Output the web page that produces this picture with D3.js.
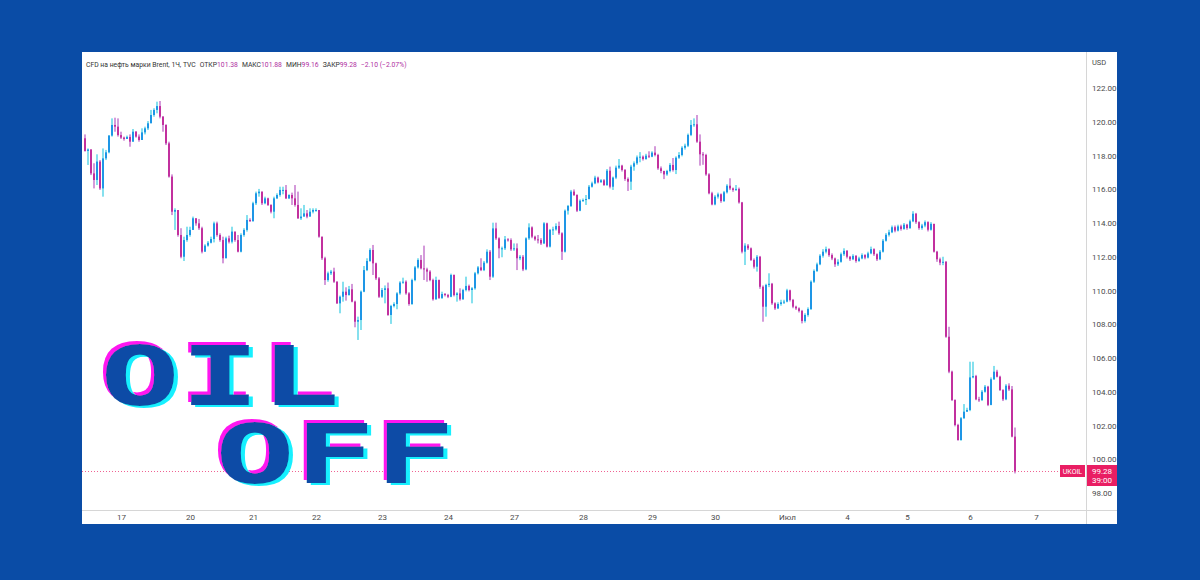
<!DOCTYPE html>
<html><head><meta charset="utf-8">
<script src="https://cdn.jsdelivr.net/npm/d3@7"></script>
<style>html,body{margin:0;padding:0;background:#0a4ca6;} svg{display:block}</style>
</head><body><svg id="c" width="1200" height="580"></svg>
<script>
// ---------- DATA ----------
const firstOpen = 119.02;
const closes = [
118.27,118.36,116.94,116.55,117.64,116.05,117.83,118.19,119.18,119.81,
119.71,119.21,119.06,118.98,119.10,118.82,119.41,119.12,118.92,119.37,
119.61,119.91,120.40,120.70,120.93,120.30,119.81,118.72,116.75,114.67,
114.77,113.29,112.00,112.99,113.29,113.59,114.28,113.98,113.69,112.30,
112.66,112.83,113.05,113.98,113.29,112.99,111.91,113.09,112.89,113.49,
112.99,112.30,113.29,113.59,114.18,114.10,115.17,115.76,115.86,115.17,
115.46,115.07,114.67,115.46,115.66,115.96,115.96,115.46,115.66,115.46,
115.07,114.28,114.38,114.57,114.38,114.67,114.77,114.77,113.19,111.91,
110.62,111.02,111.12,
110.52,109.24,109.63,109.93,109.73,110.07,109.34,108.15,108.25,109.93,
111.21,111.75,112.40,111.61,110.72,109.63,110.03,110.13,108.55,109.08,
109.20,109.83,110.47,110.52,109.83,109.20,110.62,111.37,111.81,111.31,
111.25,111.12,110.62,109.48,110.62,109.56,109.79,109.73,109.63,110.92,
109.73,109.83,109.48,110.03,110.27,110.03,110.13,111.02,111.37,111.21,
111.65,112.30,110.82,113.68,113.09,112.50,112.50,113.03,112.99,112.44,
112.50,111.91,112.00,111.25,113.09,113.74,113.19,113.03,112.99,112.79,
113.98,112.60,113.59,113.62,113.82,113.39,112.30,114.73,115.01,115.86,
115.66,114.73,115.32,
115.36,115.42,116.15,116.35,116.69,116.41,116.53,116.25,117.10,116.15,
116.69,117.28,117.40,117.14,116.61,116.45,117.34,117.54,117.89,117.93,
117.79,117.99,117.93,118.17,118.03,117.24,117.08,116.88,117.08,117.44,
117.14,117.87,118.03,118.46,118.58,119.22,119.81,119.85,118.82,118.07,
118.03,116.88,115.76,115.10,115.56,115.70,115.30,115.82,116.21,116.05,
115.96,116.02,115.22,112.30,112.66,112.50,111.81,111.41,112.00,110.22,
109.04,110.33,110.40,109.24,108.94,109.20,109.30,109.34,110.01,109.44,
109.04,108.94,108.79,108.19,108.55,108.90,110.52,111.16,111.55,112.06,
112.30,112.45,112.10,111.90,111.55,111.70,112.15,112.35,112.00,111.85,
112.05,111.75,111.90,112.10,111.95,112.20,112.45,112.15,111.85,112.30,
112.95,113.30,113.45,113.75,113.55,113.80,113.65,113.90,113.70,114.10,
114.55,114.05,113.70,113.85,114.05,113.60,113.95,
112.30,111.85,111.65,111.70,107.26,105.19,103.51,102.03,101.14,102.43,
102.82,102.92,104.85,104.93,103.55,103.51,104.00,104.30,103.22,104.74,
105.19,104.89,104.10,103.55,104.36,104.14,101.34,99.28
];
const highs = [
119.25,118.42,118.36,117.54,118.07,117.73,118.42,118.33,119.21,120.20,
120.24,120.20,119.41,119.12,119.18,119.25,119.57,119.45,119.25,119.61,
119.71,120.04,120.70,120.80,121.19,121.23,120.34,119.85,118.82,116.88,
114.87,114.57,113.69,113.19,113.78,113.78,114.38,114.18,114.24,113.78,
112.74,112.93,113.19,114.08,114.08,113.39,113.19,113.19,113.25,113.78,
113.45,113.29,113.39,113.69,114.47,114.28,115.26,115.86,116.02,115.56,
115.56,115.50,115.11,115.56,115.76,116.15,116.15,116.25,115.70,115.80,
116.25,115.86,114.87,115.07,114.77,114.87,114.87,114.87,114.38,113.19,
112.00,111.12,111.22,
111.35,110.55,109.70,110.52,110.19,110.27,110.39,109.40,108.45,110.00,
111.45,111.91,112.50,112.70,111.65,110.80,110.15,110.30,110.47,109.15,
109.30,109.90,110.55,110.76,110.60,109.90,110.70,111.45,111.91,112.10,
112.66,111.35,111.20,110.70,110.82,110.65,109.93,109.85,109.80,111.00,
110.95,109.90,110.13,110.10,110.82,110.35,110.20,111.10,111.45,111.91,
111.75,112.44,112.40,114.02,114.02,113.15,112.60,113.23,113.10,113.09,
112.79,112.79,112.10,112.10,113.15,113.98,113.80,113.25,113.29,113.10,
114.05,114.02,113.65,113.78,113.98,114.08,113.45,114.80,115.07,115.96,
115.99,115.70,115.40,
115.45,115.66,116.25,116.45,116.80,116.75,116.60,116.60,117.20,117.34,
116.75,117.40,117.79,117.45,117.20,116.70,117.45,117.65,118.00,118.20,
118.00,118.10,118.25,118.25,118.55,118.10,117.35,117.10,117.15,117.55,
117.85,117.95,118.20,118.55,118.70,119.30,120.10,120.20,120.40,119.25,
118.20,118.10,116.95,115.85,115.65,115.80,115.75,115.90,116.30,116.65,
116.10,116.25,116.10,115.25,112.80,112.75,112.55,111.90,112.10,112.05,
110.30,110.40,111.02,110.45,109.30,109.30,109.45,109.45,110.10,110.05,
109.50,109.10,109.00,108.85,108.65,109.00,110.60,111.25,111.65,112.15,
112.45,112.60,112.50,112.20,111.95,111.85,112.25,112.50,112.40,112.05,
112.15,112.10,112.00,112.20,112.15,112.30,112.60,112.50,112.20,112.40,
113.05,113.40,113.60,113.85,113.85,113.90,113.90,114.00,113.95,114.20,
114.70,114.60,114.10,113.95,114.15,114.10,114.05,
113.70,112.35,111.95,112.00,111.75,107.85,105.25,103.55,102.10,102.50,
103.27,103.05,105.78,105.78,105.00,103.70,104.10,104.40,104.35,104.85,
105.53,105.30,104.95,104.15,104.45,104.50,104.34,101.88
];
const lows = [
118.23,117.44,116.84,116.05,116.25,115.96,115.56,117.73,118.13,119.12,
119.41,119.12,118.98,118.88,119.02,118.52,118.82,119.06,118.82,118.92,
119.25,119.51,119.91,120.30,120.50,120.20,119.41,118.62,116.69,114.47,
113.59,113.19,111.91,111.75,112.89,113.19,113.59,113.84,113.59,112.20,
112.30,112.60,112.79,112.85,113.19,112.89,111.61,111.91,112.79,112.79,
112.89,112.26,112.26,113.19,113.49,114.08,114.24,115.07,115.56,115.07,
115.11,115.01,114.57,114.28,115.42,115.56,115.70,115.42,115.42,115.07,
114.97,114.24,114.18,114.43,114.28,114.47,114.57,114.67,113.13,111.81,
110.33,110.52,110.92,
110.45,109.20,108.65,109.34,109.40,109.70,109.30,107.82,107.07,107.66,
109.90,111.15,111.70,110.92,110.62,109.56,109.56,109.24,108.50,108.02,
109.00,108.89,109.75,110.40,109.75,109.10,109.15,110.55,111.30,111.25,
110.62,110.52,110.55,109.40,109.45,109.50,109.50,109.65,109.55,109.60,
109.65,109.34,109.40,109.45,109.95,109.95,109.24,110.05,110.95,111.15,
111.15,111.60,110.62,110.75,113.00,111.91,111.97,112.40,112.90,112.35,
112.35,111.21,111.80,111.15,111.20,113.00,113.10,112.95,112.79,112.70,
112.75,112.55,112.55,113.29,113.55,113.30,111.81,112.25,114.50,114.95,
115.60,114.65,114.70,
115.25,115.07,115.40,116.10,116.30,116.35,116.40,116.20,116.20,116.05,
115.96,116.60,117.20,117.05,116.50,115.90,115.96,117.10,117.45,117.60,
117.70,117.75,117.85,117.90,117.95,117.15,116.95,116.60,116.80,117.00,
117.05,116.90,117.80,117.95,118.35,118.50,119.15,119.70,118.75,117.40,
117.45,116.80,115.70,115.05,115.05,115.45,115.20,115.25,115.75,115.95,
115.85,115.90,115.15,112.20,111.51,112.40,111.75,111.30,111.12,110.10,
108.15,108.45,110.20,109.15,108.85,108.90,109.10,109.20,109.30,109.35,
108.95,108.85,108.70,108.05,108.10,108.45,108.85,110.45,111.10,111.50,
111.95,112.20,112.00,111.80,111.40,111.45,111.65,112.05,111.90,111.75,
111.80,111.65,111.70,111.85,111.85,111.90,112.15,112.05,111.75,111.80,
112.25,112.90,113.20,113.40,113.45,113.50,113.55,113.60,113.60,113.65,
114.05,113.95,113.60,113.60,113.75,113.50,113.55,
112.25,111.70,111.50,111.50,107.20,105.10,103.45,101.95,101.10,101.10,
102.40,102.80,102.85,104.80,103.50,103.40,103.45,103.95,103.15,103.20,
104.70,104.85,104.05,103.45,103.50,104.05,101.30,99.16
];
const priceTicks = [98,100,102,104,106,108,110,112,114,116,118,120,122];
const dayLabels = ["17","20","21","22","23","24","27","28","29","30","Июл","4","5","6","7"];
const dayIndex  = [12,35,56,77,99,121,143,166,189,210,234,254,274,295,317];
const headerTitle = "CFD на нефть марки Brent, 1Ч, TVC";
const headerLabels = ["ОТКР","МАКС","МИН","ЗАКР"];
const headerValues = ["101.38","101.88","99.16","99.28"];
const headerChange = "−2.10 (−2.07%)";
const symbolName = "UKOIL";
const lastPrice = 99.28;
const countdown = "39:00";
const titleWords = ["OIL","OFF"];

// ---------- DRAW ----------
const svg = d3.select("#c");
const BLUE = "#0a4ca6";
const UP = "#1e96e6", UPW = "#86e0ee", DN = "#c2309e", DNW = "#d49ada";
svg.append("rect").attr("width",1200).attr("height",580).attr("fill",BLUE);
svg.append("rect").attr("x",82).attr("y",52).attr("width",1035).attr("height",472).attr("fill","#fff");

const x = d3.scaleLinear().domain([0, closes.length-1]).range([85, 85 + 3*(closes.length-1)]);
const y = d3.scaleLinear().domain([98,122]).range([493,88]);

// axes frame
svg.append("line").attr("x1",1086.5).attr("x2",1086.5).attr("y1",52).attr("y2",524).attr("stroke","#d6d6d6");
svg.append("line").attr("x1",82).attr("x2",1117).attr("y1",510.5).attr("y2",510.5).attr("stroke","#d6d6d6");

const font = "Roboto, 'Liberation Sans', Arial, sans-serif";

// y axis
const yAxis = d3.axisRight(y).tickValues(priceTicks).tickFormat(d3.format(".2f")).tickSize(0).tickPadding(0);
const gy = svg.append("g").attr("transform","translate(1092,0)").call(yAxis);
gy.select(".domain").remove();
gy.selectAll("text").attr("font-family",font).attr("font-size",8).attr("fill","#4a4a4a");
svg.append("text").attr("x",1092).attr("y",65).text("USD")
  .attr("font-family",font).attr("font-size",7.5).attr("fill","#4a4a4a");

// x axis
const xAxis = d3.axisBottom(x).tickValues(dayIndex).tickFormat((d,i)=>dayLabels[i]).tickSize(0).tickPadding(0);
const gx = svg.append("g").attr("transform","translate(0,514)").call(xAxis);
gx.select(".domain").remove();
gx.selectAll("text").attr("font-family",font).attr("font-size",8).attr("fill","#4a4a4a");

// candles
const data = closes.map((c,i)=>({i, o: i ? closes[i-1] : firstOpen, h: highs[i], l: lows[i], c}));
const g = svg.append("g");
g.selectAll("rect.w").data(data).join("rect").attr("class","w")
  .attr("x", d=>x(d.i)-1).attr("width",2)
  .attr("y", d=>y(Math.max(d.h,d.o,d.c)))
  .attr("height", d=>Math.max(1, y(Math.min(d.l,d.o,d.c)) - y(Math.max(d.h,d.o,d.c))))
  .attr("fill", d=>d.c>=d.o?UPW:DNW);
g.selectAll("rect.b").data(data).join("rect").attr("class","b")
  .attr("x", d=>x(d.i)-1).attr("width",2)
  .attr("y", d=>y(Math.max(d.o,d.c)))
  .attr("height", d=>Math.max(1, Math.abs(y(d.o)-y(d.c))))
  .attr("fill", d=>d.c>=d.o?UP:DN);

// last price line + labels
const ly = Math.round(y(lastPrice))+0.5;
svg.append("line").attr("x1",82).attr("x2",1060).attr("y1",ly).attr("y2",ly)
  .attr("stroke","#f06292").attr("stroke-dasharray","1,2").attr("stroke-width",1);
svg.append("rect").attr("x",1060).attr("y",ly-6.5).attr("width",25).attr("height",12).attr("fill","#e91e63");
svg.append("text").attr("x",1072.5).attr("y",ly+2.5).attr("text-anchor","middle").text(symbolName)
  .attr("font-family",font).attr("font-size",7).attr("fill","#fff");
svg.append("rect").attr("x",1087).attr("y",ly-6.5).attr("width",30).attr("height",21).attr("fill","#e91e63");
svg.append("text").attr("x",1102).attr("y",ly+2.5).attr("text-anchor","middle").text(d3.format(".2f")(lastPrice))
  .attr("font-family",font).attr("font-size",8).attr("fill","#fff");
svg.append("text").attr("x",1102).attr("y",ly+11.5).attr("text-anchor","middle").text(countdown)
  .attr("font-family",font).attr("font-size",8).attr("fill","#fff");

// header (one flowing line)
const ht = svg.append("text").attr("x",86).attr("y",66.5).attr("font-family",font).attr("font-size",6.8);
ht.append("tspan").attr("fill","#333").text(headerTitle);
headerLabels.forEach((lab,i)=>{
  ht.append("tspan").attr("dx",4).attr("fill","#333").text(lab);
  ht.append("tspan").attr("fill","#b0309f").text(headerValues[i]);
});
ht.append("tspan").attr("dx",4).attr("fill","#b0309f").text(headerChange);

// OIL OFF glitch title (one text, colour ghosts via filter)
const defs = svg.append("defs");
const f = defs.append("filter").attr("id","glitch")
  .attr("x","-10%").attr("y","-10%").attr("width","120%").attr("height","120%");
f.append("feOffset").attr("in","SourceAlpha").attr("dx",-3).attr("dy",-3).attr("result","a1");
f.append("feFlood").attr("flood-color","#ff14f0").attr("result","c1");
f.append("feComposite").attr("in","c1").attr("in2","a1").attr("operator","in").attr("result","mg");
f.append("feOffset").attr("in","SourceAlpha").attr("dx",4).attr("dy",2).attr("result","a2");
f.append("feFlood").attr("flood-color","#14f0ff").attr("result","c2");
f.append("feComposite").attr("in","c2").attr("in2","a2").attr("operator","in").attr("result","cy");
const fm = f.append("feMerge");
fm.append("feMergeNode").attr("in","mg");
fm.append("feMergeNode").attr("in","cy");
fm.append("feMergeNode").attr("in","SourceGraphic");

const SX = 1.62;
const tpos = [{x:100,y:405},{x:215,y:483}];
const tg = svg.append("g").attr("filter","url(#glitch)");
const tt = tg.append("text").attr("transform",`scale(${SX},1)`)
  .attr("font-family","'DejaVu Sans Mono', monospace").attr("font-weight","bold")
  .attr("font-size",82).attr("fill",BLUE);
titleWords.forEach((w,i)=>{
  tt.append("tspan").attr("x",tpos[i].x/SX).attr("y",tpos[i].y).text(w);
});
</script></body></html>
